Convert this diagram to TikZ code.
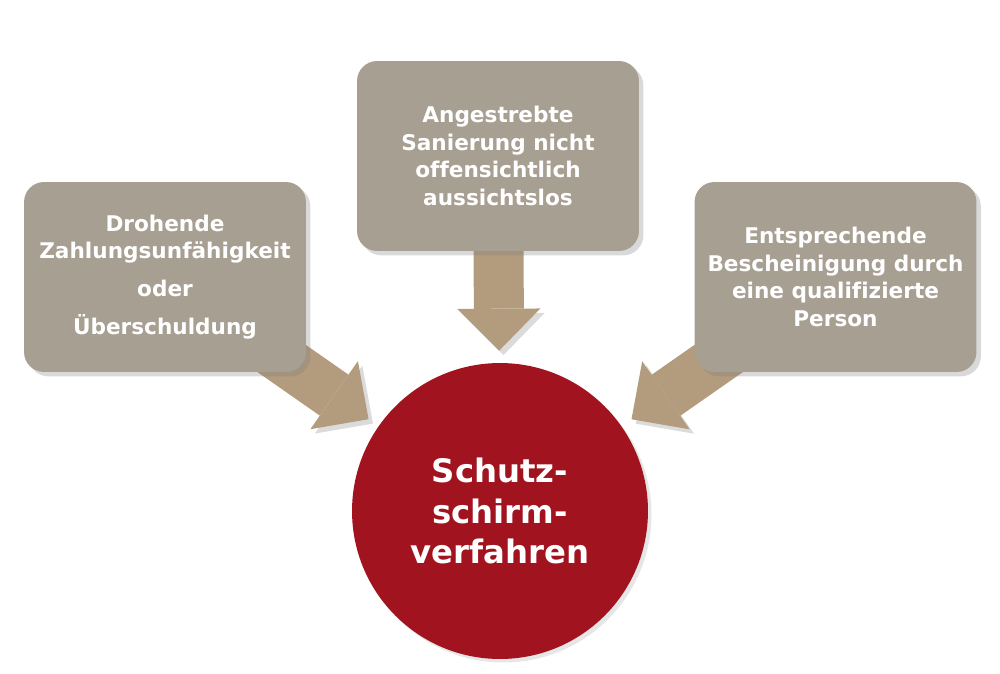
\documentclass[tikz,border=0pt]{standalone}
\usepackage{fontspec}
\setmainfont[Ligatures=NoCommon]{DejaVu Sans}
\usetikzlibrary{arrows.meta,shadows,backgrounds}

\definecolor{boxgray}{HTML}{A89F93}
\definecolor{arrowtan}{HTML}{B39B7D}
\definecolor{schirmred}{HTML}{A1131E}

\begin{document}
\begin{tikzpicture}[x=0.02cm,y=-0.02cm]

    \tikzstyle{cond}+=[
        rounded corners=0.4cm,
        minimum width=5.64cm,
        minimum height=3.8cm,
        fill=boxgray,
        text=white,
        align=center,
        font=\fontsize{12.3}{15.6}\selectfont\bfseries,
        drop shadow={shadow xshift=2.5pt, shadow yshift=-2.5pt, opacity=0.3}
    ]
    \tikzstyle{verfahren}+=[
        circle,
        inner sep=0pt,
        minimum size=5.92cm,
        fill=schirmred,
        text=white,
        align=center,
        font=\fontsize{18.4}{23}\selectfont\bfseries,
        drop shadow={shadow xshift=2pt, shadow yshift=-2pt, opacity=0.2}
    ]
    \tikzstyle{flow}+=[
        draw=arrowtan,
        line width=1cm,
        -{Triangle[length=0.84cm,width=1.66cm,line width=0pt]},
        shorten >=0.24cm,
        preaction={draw=black!14, transform canvas={shift={(2.5pt,-2.5pt)}}}
    ]

    % ----------------------------------------------------------------------------
    \useasboundingbox (0,0) rectangle (1000,673);
    \coordinate(drohend) at (165,277);
    \coordinate(sanierung) at (498,156);
    \coordinate(person) at (835.5,277);
    \coordinate(schirm) at (500,511);

    % ----------------------------------------------------------------------------
    \node[cond] (lbox) at (drohend) {Drohende\\Zahlungsunfähigkeit\\[6pt]oder\\[6pt]Überschuldung};
    \node[cond] (mbox) at (sanierung) {Angestrebte\\Sanierung nicht\\offensichtlich\\aussichtslos};
    \node[cond] (rbox) at (person) {Entsprechende\\Bescheinigung durch\\eine qualifizierte\\Person};
    \node[verfahren] (circ) at (schirm) {Schutz-\\schirm-\\verfahren};

    % ----------------------------------------------------------------------------
    \begin{scope}[on background layer]
        \draw[flow] (lbox.center) -- (circ);
        \draw[flow] (mbox.center) -- (circ);
        \draw[flow] (rbox.center) -- (circ);
    \end{scope}

\end{tikzpicture}
\end{document}
